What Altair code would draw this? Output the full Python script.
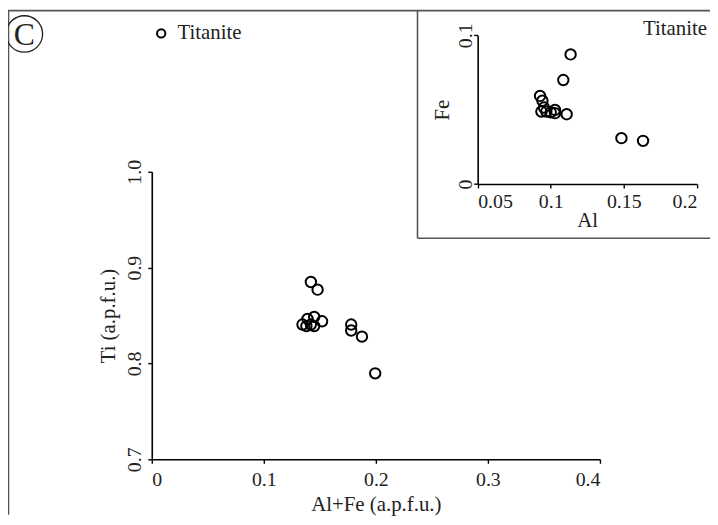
import altair as alt
import pandas as pd

# ---- data ----
main_x = [0.142, 0.148, 0.1345, 0.139, 0.138, 0.145, 0.145, 0.152, 0.142, 0.178, 0.178, 0.1876, 0.1994]
main_y = [0.885, 0.877, 0.8406, 0.8465, 0.839, 0.8486, 0.839, 0.844, 0.8406, 0.8406, 0.8344, 0.828, 0.7897]
inset_x = [0.1136, 0.1086, 0.0927, 0.0943, 0.0954, 0.0936, 0.100, 0.1029, 0.1029, 0.1109, 0.1484, 0.1632, 0.097]
inset_y = [0.0871, 0.0699, 0.0592, 0.056, 0.0514, 0.0487, 0.0482, 0.0498, 0.0476, 0.0469, 0.0308, 0.029, 0.0487]
mineral = "Titanite"
main_x_ticks = [0, 0.1, 0.2, 0.3, 0.4]
main_y_ticks = [0.7, 0.8, 0.9, 1.0]
inset_x_ticks = [0.05, 0.1, 0.15, 0.2]
inset_y_ticks = [0, 0.1]

W, H = 708, 509
FONT = "Liberation Serif"

main_df = pd.DataFrame({"x": main_x, "y": main_y, "mineral": [mineral] * len(main_x)})
inset_df = pd.DataFrame({"x": inset_x, "y": inset_y})
one = pd.DataFrame({"a": [0]})

# main axes geometry (chart coords)
MX0, MX1 = 145, 597
MY0, MY1 = 453, 163
# inset geometry
IX0, IX1 = 473.7, 694.7
IY0, IY1 = 175.3, 25.3

main = alt.Chart(main_df).mark_point(
    filled=False, color="black", strokeWidth=2, size=110, opacity=1
).encode(
    x=alt.X("x:Q", scale=alt.Scale(domain=[0, 0.4], range=[MX0, MX1], nice=False, zero=False),
            axis=alt.Axis(orient="bottom", offset=MY0 - H, values=main_x_ticks, format="~g",
                          title="Al+Fe (a.p.f.u.)", titleX=(MX0 + MX1) / 2, titleY=46,
                          titleBaseline="middle", titleAlign="center",
                          tickSize=4, labelPadding=6.5)),
    y=alt.Y("y:Q", scale=alt.Scale(domain=[0.7, 1.0], range=[MY0, MY1], nice=False, zero=False),
            axis=alt.Axis(orient="left", offset=-MX0, values=main_y_ticks, format=".1f",
                          title="Ti (a.p.f.u.)", titleX=-44, titleY=(MY0 + MY1) / 2,
                          titleAngle=270, titleBaseline="middle", titleAlign="center",
                          labelAngle=270, labelAlign="center", labelBaseline="alphabetic",
                          tickSize=4, labelPadding=7.5)),
    shape=alt.Shape("mineral:N", scale=alt.Scale(domain=[mineral], range=["circle"]),
                    legend=alt.Legend(orient="none", legendX=144, legendY=13, title=None,
                                      labelFont=FONT, labelFontSize=21, labelColor="#222",
                                      symbolStrokeColor="black", symbolFillColor="white",
                                      symbolStrokeWidth=2, symbolSize=70, labelOffset=6,
                                      padding=0)),
)

inset = alt.Chart(inset_df).mark_point(
    filled=False, color="black", strokeWidth=2, size=110, opacity=1, shape="circle"
).encode(
    x=alt.X("x:Q", scale=alt.Scale(domain=[0.05, 0.2], range=[IX0, IX1], nice=False, zero=False),
            axis=alt.Axis(orient="bottom", offset=IY0 - H, values=inset_x_ticks, format="~g",
                          title="Al", titleX=(IX0 + IX1) / 2, titleY=37,
                          titleBaseline="middle", titleAlign="center",
                          tickSize=4, labelPadding=4)),
    y=alt.Y("y:Q", scale=alt.Scale(domain=[0, 0.1], range=[IY0, IY1], nice=False, zero=False),
            axis=alt.Axis(orient="left", offset=-IX0, values=inset_y_ticks, format="~g",
                          title="Fe", titleX=-35, titleY=(IY0 + IY1) / 2,
                          titleAngle=270, titleBaseline="middle", titleAlign="center",
                          labelAngle=270, labelAlign="center", labelBaseline="alphabetic",
                          tickSize=4, labelPadding=2)),
)

FRAME = "#555"
def rule(x, x2, y, y2):
    return alt.Chart(one).mark_rule(color=FRAME, strokeWidth=1.6).encode(
        x=alt.value(x), x2=alt.value(x2), y=alt.value(y), y2=alt.value(y2))

frame = [
    rule(0, W, 0.5, 0.5),
    rule(0.5, 0.5, 0, H),
    rule(413, 413, 0, 230),
    rule(413, W, 230, 230),
]

c_circle = alt.Chart(one).mark_point(
    shape="circle", filled=False, color="#222", strokeWidth=1.3, size=1350, opacity=1
).encode(x=alt.value(16.5), y=alt.value(24))
c_text = alt.Chart(one).mark_text(
    text="C", font=FONT, fontSize=32, color="#222", align="center", baseline="middle"
).encode(x=alt.value(16.5), y=alt.value(25))
inset_label = alt.Chart(one).mark_text(
    text="Titanite", font=FONT, fontSize=21, color="#222", align="right", baseline="middle"
).encode(x=alt.value(705), y=alt.value(19))

chart = alt.layer(
    *frame, main, inset, c_circle, c_text, inset_label
).resolve_scale(
    x="independent", y="independent"
).resolve_axis(
    x="independent", y="independent"
).properties(
    width=W, height=H, padding=0,
    autosize=alt.AutoSizeParams(type="none"),
).configure_view(
    stroke=None
).configure_axis(
    grid=False, domainColor="black", domainWidth=1.6, tickColor="black", tickWidth=1.4,
    labelFont=FONT, labelFontSize=20, labelColor="#222",
    titleFont=FONT, titleFontSize=21, titleFontWeight="normal", titleColor="#222",
)

chart.save("out.html", embed_options={"renderer": "svg", "actions": False})
